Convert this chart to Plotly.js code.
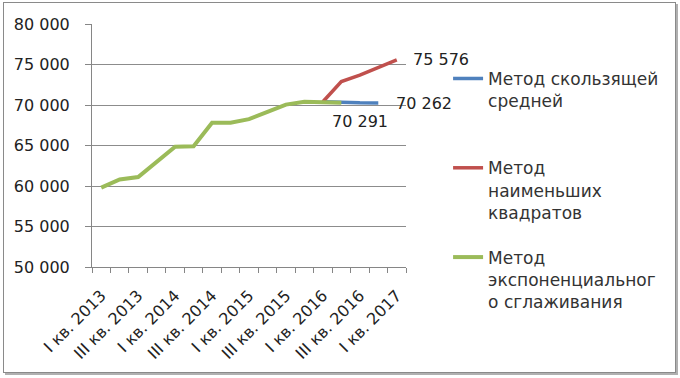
<!DOCTYPE html>
<html>
<head>
<meta charset="utf-8">
<script src="https://cdn.plot.ly/plotly-3.0.1.min.js"></script>
<style>
  html, body { margin: 0; padding: 0; background: #fff; }
  #wrap { position: relative; width: 680px; height: 378px; }
  #chart { width: 680px; height: 378px; }
  #frame { position: absolute; left: 3px; top: 2px; width: 671px; height: 369px;
           border: 1px solid #8a8a8a; box-shadow: 2px 2px 0 #b0b0b0; pointer-events: none; }
</style>
</head>
<body>
<div id="wrap"><div id="chart"></div><div id="frame"></div></div>
<script>
const categories = [
  "I кв. 2013", "II кв. 2013", "III кв. 2013", "IV кв. 2013",
  "I кв. 2014", "II кв. 2014", "III кв. 2014", "IV кв. 2014",
  "I кв. 2015", "II кв. 2015", "III кв. 2015", "IV кв. 2015",
  "I кв. 2016", "II кв. 2016", "III кв. 2016", "IV кв. 2016",
  "I кв. 2017"
];
const seriesNames = [
  "Метод скользящей<br>средней<br> ",
  "Метод<br>наименьших<br>квадратов",
  "Метод<br>экспоненциальног<br>о сглаживания"
];
const movingAverage = [null, null, null, null, null, null, null, null, null, null, null, null,
  70400, 70300, 70270, 70262, null];
const leastSquares = [null, null, null, null, null, null, null, null, null, null, null, null,
  70400, 72900, 73700, 74600, 75576];
const expSmoothing = [59800, 60800, 61100, 63000, 64850, 64900, 67800, 67800,
  68250, 69150, 70050, 70400, 70400, 70291, null, null, null];

const colors = ["#4F81BD", "#C0504D", "#9BBB59"];
const seriesData = [movingAverage, leastSquares, expSmoothing];

const traces = seriesData.map((vals, k) => ({
  type: "scatter", mode: "lines", x: categories, y: vals,
  name: seriesNames[k], legendgroup: "g" + k,
  line: { color: colors[k], width: k === 2 ? 4 : 3.5 },
  connectgaps: false, hoverinfo: "skip"
}));

function lastIdx(arr) { for (let i = arr.length - 1; i >= 0; i--) if (arr[i] != null) return i; return -1; }
function fmt(v) { return String(v).replace(/\B(?=(\d{3})+(?!\d))/g, " "); }

const labelFont = { family: "DejaVu Sans", size: 16, color: "#222" };
const iR = lastIdx(leastSquares), iB = lastIdx(movingAverage), iG = lastIdx(expSmoothing);
const annotations = [
  { x: categories[iR], y: leastSquares[iR], text: fmt(leastSquares[iR]), showarrow: false,
    xanchor: "left", yanchor: "middle", xshift: 14, yshift: 0, font: labelFont },
  { x: categories[iB], y: movingAverage[iB], text: fmt(movingAverage[iB]), showarrow: false,
    xanchor: "left", yanchor: "middle", xshift: 16, yshift: -1, font: labelFont },
  { x: categories[iG], y: expSmoothing[iG], text: fmt(expSmoothing[iG]), showarrow: false,
    xanchor: "center", yanchor: "middle", xshift: 19, yshift: -19, font: labelFont }
];

const layout = {
  width: 680, height: 378,
  margin: { l: 92, r: 274, t: 24, b: 111 },
  paper_bgcolor: "#fff", plot_bgcolor: "#fff",
  separators: ", ",
  font: { family: "DejaVu Sans", size: 16, color: "#222" },
  showlegend: true,
  legend: {
    x: 1.134, y: 0.848, xanchor: "left", yanchor: "top",
    valign: "top", tracegroupgap: 20, maxheight: 340,
    font: { family: "DejaVu Sans", size: 17, color: "#333" },
    bgcolor: "rgba(0,0,0,0)"
  },
  xaxis: {
    type: "category", categoryorder: "array", categoryarray: categories,
    dtick: 1, ticklabelstep: 2, tickson: "boundaries",
    ticks: "outside", ticklen: 5, tickcolor: "#868686",
    tickangle: -45, tickfont: { family: "DejaVu Sans", size: 16, color: "#222" },
    ticklabelstandoff: 12,
    showgrid: false, showline: true, linecolor: "#868686", linewidth: 1,
    range: [-0.5, categories.length - 0.5], zeroline: false
  },
  yaxis: {
    range: [50000, 80000], dtick: 5000, tickformat: ",d",
    ticks: "outside", ticklen: 6, tickcolor: "#868686",
    tickfont: { family: "DejaVu Sans", size: 16, color: "#222" },
    showgrid: true, gridcolor: "#8c8c8c", gridwidth: 1,
    showline: true, linecolor: "#868686", zeroline: false, ticklabelstandoff: 12
  },
  annotations: annotations
};

Plotly.newPlot("chart", traces, layout, { staticPlot: true, displayModeBar: false });
</script>
</body>
</html>
